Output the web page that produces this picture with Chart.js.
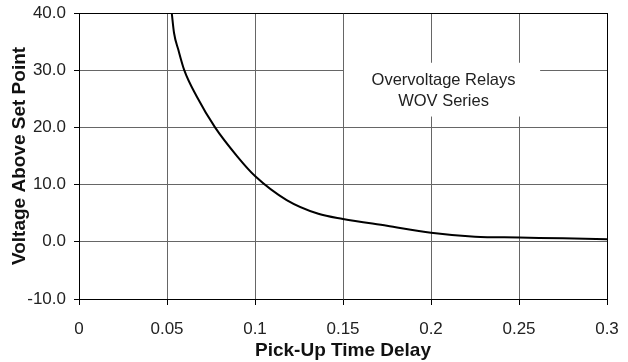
<!DOCTYPE html>
<html>
<head>
<meta charset="utf-8">
<script src="https://cdn.jsdelivr.net/npm/chart.js@4.4.1/dist/chart.umd.min.js"></script>
<style>
    html, body { margin: 0; padding: 0; background: #fff; }
    canvas { display: block; }
</style>
</head>
<body>
<canvas id="chart" width="628" height="362"></canvas>
<script>
// pick-up delay (s) vs voltage above set point (%)
const delay   = [0.0527, 0.054, 0.0564, 0.0598, 0.0669, 0.0773, 0.09, 0.1, 0.118, 0.136, 0.15, 0.175, 0.2, 0.225, 0.25, 0.275, 0.3];
const voltage = [40, 36.5, 33.6, 30, 25.4, 20, 14.9, 11.5, 7.3, 4.9, 4.0, 2.8, 1.6, 0.9, 0.75, 0.6, 0.45];

const xTicks = [0, 0.05, 0.1, 0.15, 0.2, 0.25, 0.3];
const yTicks = [-10, 0, 10, 20, 30, 40];
const noteLines = ["Overvoltage Relays", "WOV Series"];

const FONT = '"Liberation Sans", Arial, sans-serif';

// white label box sitting over the grid
const noteBox = {
    id: "noteBox",
    beforeDatasetsDraw(chart) {
        const { ctx, scales: { x, y } } = chart;
        const left = x.getPixelForValue(0.15);
        const right = x.getPixelForValue(0.262);
        const top = y.getPixelForValue(31.3);
        const bottom = y.getPixelForValue(21.9);
        ctx.save();
        ctx.fillStyle = "#fff";
        ctx.fillRect(left + 1, top, right - left - 1, bottom - top);
        ctx.fillStyle = "#222";
        ctx.font = "16.5px " + FONT;
        ctx.textAlign = "center";
        ctx.textBaseline = "middle";
        const cx = (left + right) / 2 + 2;
        const cy = (top + bottom) / 2 + 1.5;
        ctx.fillText(noteLines[0], cx, cy - 10.5);
        ctx.fillText(noteLines[1], cx, cy + 10.5);
        ctx.restore();
    }
};

const points = delay.map((d, i) => ({ x: d, y: voltage[i] }));

new Chart(document.getElementById("chart"), {
    type: "line",
    data: {
        datasets: [{
            data: points,
            borderColor: "#000",
            borderWidth: 2,
            pointRadius: 0,
            cubicInterpolationMode: "monotone",
            fill: false
        }]
    },
    options: {
        responsive: false,
        animation: false,
        devicePixelRatio: 1,
        layout: { padding: { top: 13, right: 21, left: 0, bottom: 0 } },
        plugins: {
            legend: { display: false },
            tooltip: { enabled: false }
        },
        scales: {
            x: {
                type: "linear",
                min: 0,
                max: 0.3,
                afterBuildTicks: s => { s.ticks = xTicks.map(v => ({ value: v })); },
                afterFit: s => {
                    s.height = 63;
                    s.paddingLeft = 0;
                    s.paddingRight = 0;
                },
                ticks: {
                    color: "#222",
                    font: { family: FONT, size: 17 },
                    padding: 14,
                    maxRotation: 0,
                    callback: v => String(parseFloat(v.toFixed(2)))
                },
                grid: {
                    color: c => (c.tick && c.tick.value === 0.3) ? "#000" : "#666",
                    tickColor: "#000",
                    tickLength: 6
                },
                border: { color: "#000", width: 1 },
                title: {
                    display: true,
                    text: "Pick-Up Time Delay",
                    color: "#111",
                    font: { family: FONT, size: 19, weight: "bold" },
                    padding: { top: 1, bottom: 0 }
                }
            },
            y: {
                min: -10,
                max: 40,
                afterBuildTicks: s => { s.ticks = yTicks.map(v => ({ value: v })); },
                afterFit: s => {
                    s.width = 79;
                    s.paddingTop = 0;
                    s.paddingBottom = 0;
                },
                ticks: {
                    color: "#222",
                    font: { family: FONT, size: 17 },
                    padding: 8,
                    callback: v => v.toFixed(1)
                },
                grid: {
                    color: c => (c.tick && c.tick.value === 40) ? "#000" : "#666",
                    tickColor: "#000",
                    tickLength: 5
                },
                border: { color: "#000", width: 1 },
                title: {
                    display: true,
                    text: "Voltage Above Set Point",
                    color: "#111",
                    font: { family: FONT, size: 19, weight: "bold" },
                    padding: { top: 8, bottom: 0 }
                }
            }
        }
    },
    plugins: [noteBox]
});
</script>
</body>
</html>
